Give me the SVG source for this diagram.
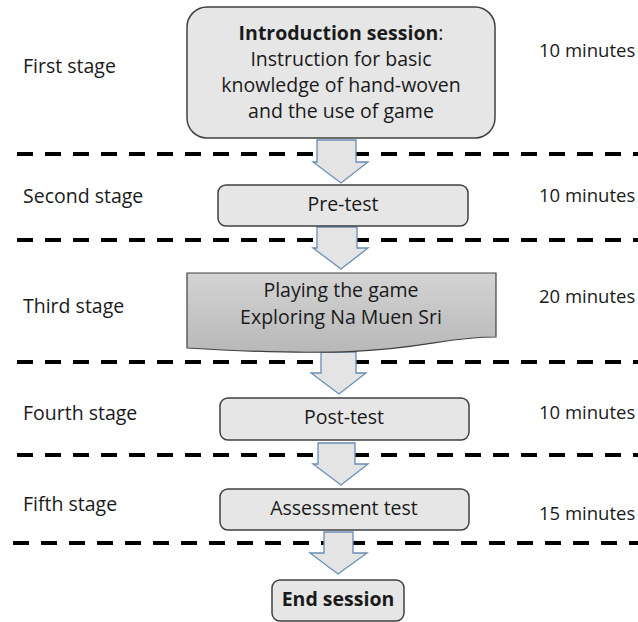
<svg xmlns="http://www.w3.org/2000/svg" width="638" height="622" viewBox="0 0 638 622">
<defs>
<linearGradient id="docg" x1="0" y1="0" x2="0" y2="1">
<stop offset="0" stop-color="#d4d4d4"/>
<stop offset="1" stop-color="#b8b8b8"/>
</linearGradient>
</defs>
<style>
text{font-family:"Open Sans",Lato,"Liberation Sans",sans-serif;fill:#1a1a1a;font-size:19.5px}
.c{text-anchor:middle}
.b{font-weight:bold}
.d{font-size:18.5px}
.box{fill:#e6e6e6;stroke:#404040;stroke-width:1.5}
.dash{stroke:#000;stroke-width:4;stroke-dasharray:16 12;fill:none}
.arr{fill:#e4e4e4;stroke:#6a8db4;stroke-width:1.3}
</style>
<rect width="638" height="622" fill="#fff"/>
<g id="dividers">
<line class="dash" x1="17" y1="154" x2="638" y2="154"/>
<line class="dash" x1="17" y1="240" x2="638" y2="240"/>
<line class="dash" x1="17" y1="362" x2="638" y2="362"/>
<line class="dash" x1="17" y1="455" x2="638" y2="455"/>
<line class="dash" x1="13" y1="543" x2="638" y2="543"/>
</g>
<g id="stage-labels">
<text x="23" y="73">First stage</text>
<text x="23" y="203">Second stage</text>
<text x="23" y="313">Third stage</text>
<text x="23" y="420">Fourth stage</text>
<text x="23" y="511">Fifth stage</text>
</g>
<g id="durations">
<text class="d" x="539" y="57">10 minutes</text>
<text class="d" x="539" y="202">10 minutes</text>
<text class="d" x="539" y="303">20 minutes</text>
<text class="d" x="539" y="419">10 minutes</text>
<text class="d" x="539" y="520">15 minutes</text>
</g>
<g id="connectors">
<path class="arr" d="M317,140 H356 V162 H368 L341,183 L313,162 H317 Z"/>
<path class="arr" d="M317,227 H357 V248 H368 L341,269 L313,248 H317 Z"/>
<path class="arr" d="M321,352 H356 V373 H366 L339,394 L311,373 H321 Z"/>
<path class="arr" d="M318,443 H355 V464 H368 L341,485 L313,464 H318 Z"/>
<path class="arr" d="M324,532 H353 V553 H367 L338,574 L310,553 H324 Z"/>
</g>
<g id="intro">
<rect class="box" x="187" y="7" width="308" height="131" rx="20"/>
<text class="c" x="341" y="40"><tspan class="b">Introduction session</tspan>:</text>
<text class="c" x="341" y="66">Instruction for basic</text>
<text class="c" x="341" y="92">knowledge of hand-woven</text>
<text class="c" x="341" y="118">and the use of game</text>
</g>
<g id="pretest">
<rect class="box" x="218" y="185" width="250" height="41" rx="8"/>
<text class="c" x="343" y="211">Pre-test</text>
</g>
<g id="game">
<path d="M187,273 H496 V337 C419,337 419,362 187,348 Z" fill="url(#docg)" stroke="#404040" stroke-width="1.2"/>
<text class="c" x="341" y="297">Playing the game</text>
<text class="c" x="341" y="324">Exploring Na Muen Sri</text>
</g>
<g id="posttest">
<rect class="box" x="220" y="398" width="249" height="42" rx="8"/>
<text class="c" x="344" y="424">Post-test</text>
</g>
<g id="assessment">
<rect class="box" x="220" y="489" width="249" height="41" rx="8"/>
<text class="c" x="344" y="515">Assessment test</text>
</g>
<g id="end">
<rect class="box" x="272" y="580" width="132" height="41" rx="8"/>
<text class="c b" x="338" y="606">End session</text>
</g>
</svg>
